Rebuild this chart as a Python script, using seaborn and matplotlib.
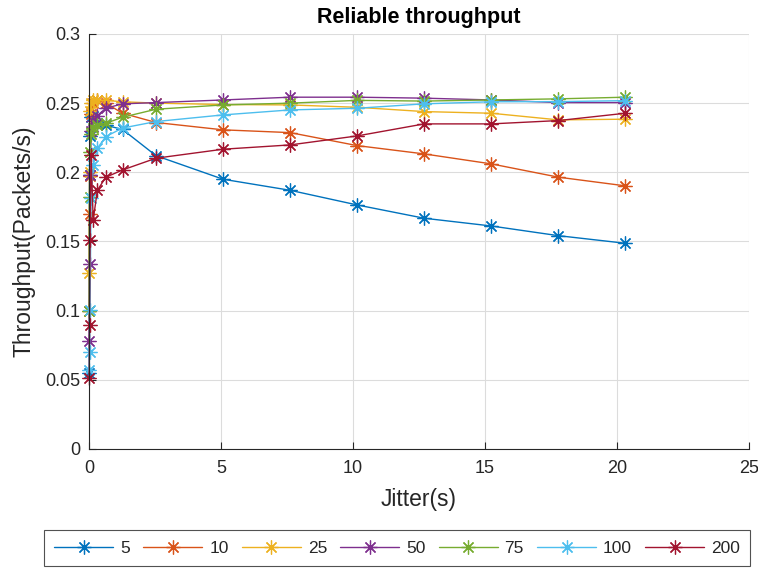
import matplotlib
matplotlib.use("Agg")
import matplotlib.pyplot as plt
import seaborn as sns
import pandas as pd

# Jitter values (s): halving steps below 2.54 s, then multiples of 2.54 s
jitter = [0.0099, 0.0198, 0.0397, 0.079, 0.159, 0.3175, 0.635, 1.27,
          2.54, 5.08, 7.62, 10.16, 12.7, 15.24, 17.78, 20.32]

series_names = ["5", "10", "25", "50", "75", "100", "200"]

tp_5 = [0.055, 0.198, 0.226, 0.240, 0.241, 0.236, 0.234, 0.231,
        0.212, 0.195, 0.187, 0.1764, 0.1668, 0.1612, 0.1542, 0.1487]
tp_10 = [0.100, 0.170, 0.197, 0.242, 0.250, 0.252, 0.250, 0.2427,
         0.236, 0.2307, 0.2287, 0.2193, 0.2133, 0.2061, 0.1965, 0.1902]
tp_25 = [0.127, 0.200, 0.244, 0.250, 0.252, 0.252, 0.252, 0.251,
         0.250, 0.249, 0.2487, 0.247, 0.2439, 0.2427, 0.2379, 0.2384]
tp_50 = [0.078, 0.134, 0.198, 0.230, 0.237, 0.241, 0.2463, 0.2495,
         0.2504, 0.2523, 0.2543, 0.2543, 0.2536, 0.2523, 0.2504, 0.2504]
tp_75 = [0.100, 0.182, 0.215, 0.228, 0.232, 0.234, 0.2354, 0.2398,
         0.2456, 0.2487, 0.250, 0.252, 0.2515, 0.2523, 0.2531, 0.2543]
tp_100 = [0.057, 0.0704, 0.1005, 0.1815, 0.205, 0.2174, 0.2258, 0.232,
          0.2367, 0.2415, 0.2451, 0.2463, 0.2495, 0.251, 0.2511, 0.2518]
tp_200 = [0.0511, 0.0897, 0.151, 0.2126, 0.1655, 0.187, 0.1964, 0.2017,
          0.2102, 0.2167, 0.2198, 0.2263, 0.235, 0.235, 0.2374, 0.2427]

colors = ["#0072BD", "#D95319", "#EDB120", "#7E2F8E", "#77AC30", "#4DBEEE", "#A2142F"]

rows = []
for name, vals in zip(series_names, [tp_5, tp_10, tp_25, tp_50, tp_75, tp_100, tp_200]):
    for x, y in zip(jitter, vals):
        rows.append({"jitter": x, "throughput": y, "series": name})
df = pd.DataFrame(rows)

sns.set_style("white")
plt.rcParams["font.family"] = ["Liberation Sans", "DejaVu Sans"]

fig = plt.figure(figsize=(7.58, 5.70), dpi=100)
ax = fig.add_axes([0.1174, 0.2123, 0.8706, 0.7281])

asterisk = (8, 2, 0)
for name, col in zip(series_names, colors):
    sub = df[df["series"] == name]
    sns.lineplot(data=sub, x="jitter", y="throughput", ax=ax, color=col,
                 marker=asterisk, markersize=10, markeredgewidth=0.9,
                 markeredgecolor=col, linewidth=1.0, label=name,
                 estimator=None, sort=False, legend=False)
for ln in ax.get_lines():
    ln.set_clip_on(False)

ax.set_xlim(0, 25)
ax.set_ylim(0, 0.3)
ax.set_xticks([0, 5, 10, 15, 20, 25])
ax.set_yticks([0, 0.05, 0.1, 0.15, 0.2, 0.25, 0.3])
ax.set_yticklabels(["0", "0.05", "0.1", "0.15", "0.2", "0.25", "0.3"])
ax.grid(True, color="#dcdcdc", linewidth=0.8)
ax.set_axisbelow(True)
for s in ["top", "right"]:
    ax.spines[s].set_visible(False)
for s in ["left", "bottom"]:
    ax.spines[s].set_color("#262626")
    ax.spines[s].set_linewidth(0.8)
ax.tick_params(axis="both", direction="in", length=5, width=0.8,
               colors="#262626", labelsize=13, left=True, bottom=True)
ax.tick_params(axis="x", pad=8)
ax.tick_params(axis="y", pad=6)

ax.set_title("Reliable throughput", fontsize=15.5, fontweight="bold", color="black", pad=8)
ax.set_xlabel("Jitter(s)", fontsize=16.5, color="#262626", labelpad=8)
ax.set_ylabel("Throughput(Packets/s)", fontsize=16.5, color="#262626", labelpad=7)

handles = [plt.Line2D([], [], color=c, marker=asterisk, markersize=10,
                      markeredgewidth=0.9, linewidth=1.0) for c in colors]
leg = fig.legend(handles, series_names, loc="lower left",
                 bbox_to_anchor=(0.058, 0.007, 0.932, 0.06), mode="expand",
                 ncol=7, frameon=True, fancybox=False, fontsize=12.5,
                 handlelength=3.4, handletextpad=0.4, columnspacing=0.6,
                 borderaxespad=0.0, borderpad=0.6)
leg.get_frame().set_edgecolor("#262626")
leg.get_frame().set_linewidth(0.8)
for t in leg.get_texts():
    t.set_color("#262626")

fig.savefig("out.png", dpi=100, facecolor="white")
